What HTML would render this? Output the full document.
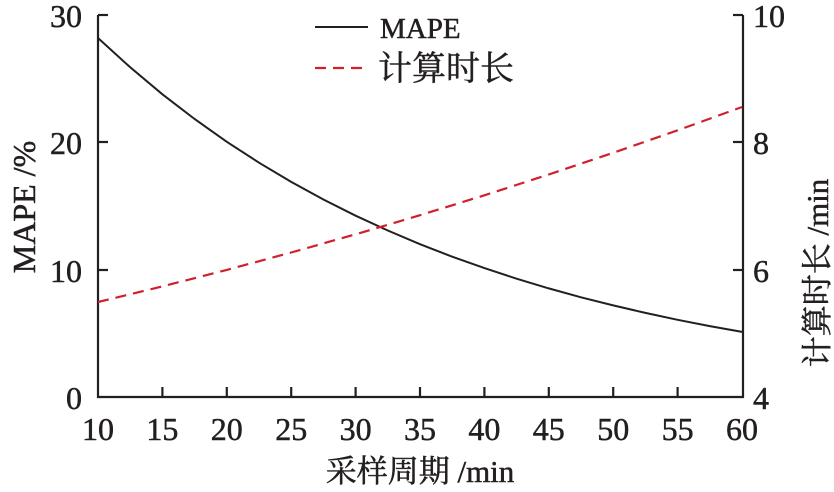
<!DOCTYPE html>
<html><head><meta charset="utf-8"><style>
html,body{margin:0;padding:0;background:#fff;}
svg{display:block;}
text{font-family:"Liberation Serif","Noto Serif CJK SC",serif;fill:#231f20;stroke:#231f20;stroke-width:0.5;}
</style></head><body>
<svg width="834" height="492" viewBox="0 0 834 492" xmlns="http://www.w3.org/2000/svg">
<g stroke="#231f20" stroke-width="2.2" fill="none">
<polyline points="98,15 98,397 743,397 743,15"/>
<line x1="98" y1="15" x2="108" y2="15"/><line x1="98" y1="142" x2="108" y2="142"/><line x1="98" y1="270" x2="108" y2="270"/>
<line x1="743" y1="15" x2="733" y2="15"/><line x1="743" y1="142" x2="733" y2="142"/><line x1="743" y1="270" x2="733" y2="270"/>
<line x1="162.4" y1="397" x2="162.4" y2="387"/><line x1="226.8" y1="397" x2="226.8" y2="387"/><line x1="291.2" y1="397" x2="291.2" y2="387"/><line x1="355.6" y1="397" x2="355.6" y2="387"/><line x1="420" y1="397" x2="420" y2="387"/><line x1="484.4" y1="397" x2="484.4" y2="387"/><line x1="548.8" y1="397" x2="548.8" y2="387"/><line x1="613.2" y1="397" x2="613.2" y2="387"/><line x1="677.6" y1="397" x2="677.6" y2="387"/>
</g>
<polyline fill="none" stroke="#231f20" stroke-width="2" points="98,38 130.2,67.3 162.4,94.3 194.6,119 226.8,141.8 259,162.7 291.2,181.9 323.4,199.5 355.6,215.7 387.8,230.5 420,244.2 452.2,256.7 484.4,268.1 516.6,278.7 548.8,288.4 581,297.3 613.2,305.4 645.4,312.9 677.6,319.8 709.8,326.1 742,331.9"/>
<polyline fill="none" stroke="#d0202e" stroke-width="2.2" stroke-dasharray="11,7" points="98,302 162.4,286.4 226.8,269.9 291.2,252.5 355.6,234.3 420,215.2 484.4,195.3 548.8,174.5 613.2,152.8 677.6,130.3 742,107"/>
<g font-size="32" text-anchor="end">
<text x="82" y="27">30</text><text x="82" y="154">20</text><text x="82" y="282">10</text><text x="82" y="409">0</text>
</g>
<g font-size="32" text-anchor="start">
<text x="753" y="27">10</text><text x="753" y="154">8</text><text x="753" y="282">6</text><text x="753" y="409">4</text>
</g>
<g font-size="32" text-anchor="middle">
<text x="98" y="440">10</text><text x="162.4" y="440">15</text><text x="226.8" y="440">20</text><text x="291.2" y="440">25</text><text x="355.6" y="440">30</text><text x="420" y="440">35</text><text x="484.4" y="440">40</text><text x="548.8" y="440">45</text><text x="613.2" y="440">50</text><text x="677.6" y="440">55</text><text x="742" y="440">60</text>
</g>
<text x="420" y="482" font-size="31" text-anchor="middle">采样周期 /min</text>
<text transform="translate(35,207) rotate(-90)" font-size="32" text-anchor="middle">MAPE /%</text>
<text transform="translate(828,273) rotate(-90)" font-size="31" text-anchor="middle">计算时长 /min</text>
<line x1="315" y1="27" x2="368" y2="27" stroke="#231f20" stroke-width="2"/>
<line x1="315" y1="68" x2="368" y2="68" stroke="#d0202e" stroke-width="2.2" stroke-dasharray="11,7"/>
<text x="380" y="38" font-size="29">MAPE</text>
<text x="378" y="80" font-size="34">计算时长</text>
</svg>
</body></html>
